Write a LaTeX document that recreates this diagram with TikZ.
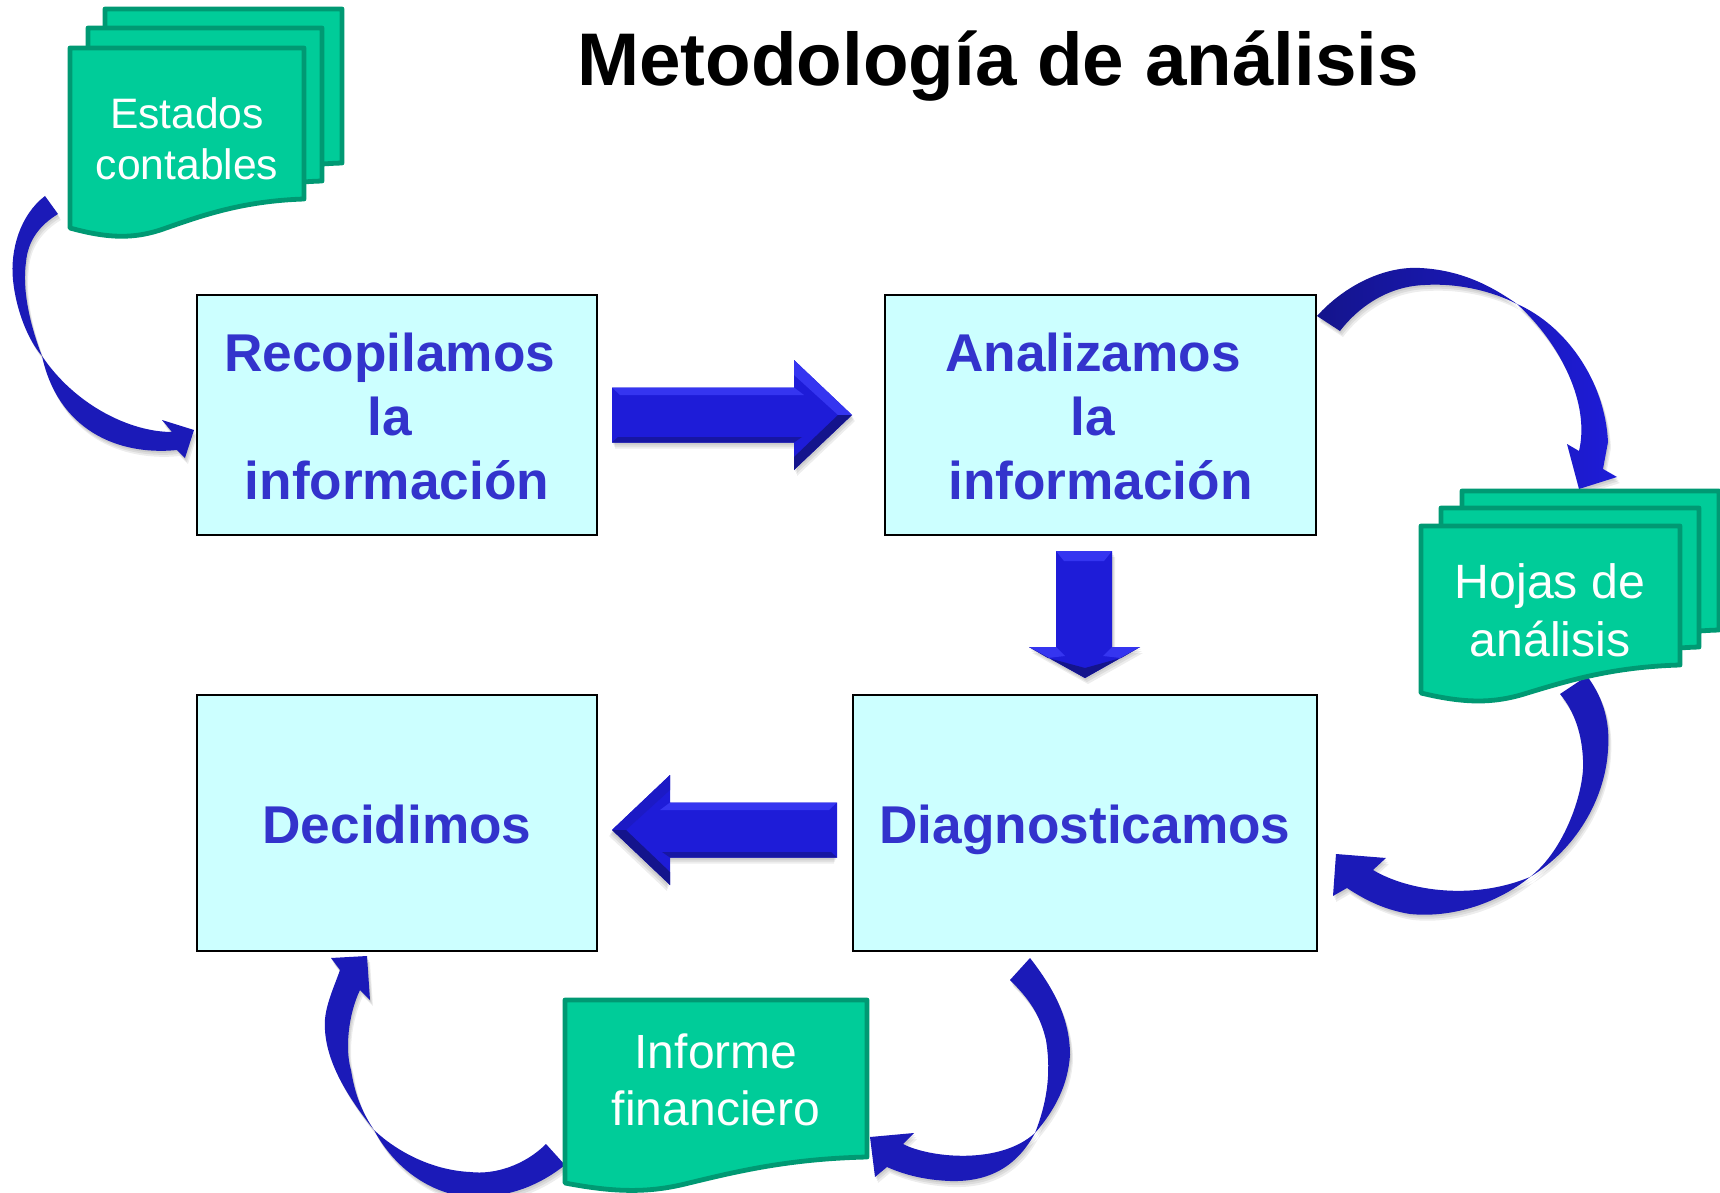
\documentclass[tikz,border=0pt]{standalone}
\usepackage{fontspec}
\setmainfont{Liberation Sans}
\definecolor{boxfill}{HTML}{CCFFFF}
\definecolor{boxtext}{HTML}{3333CC}
\definecolor{docfill}{HTML}{00CC99}
\definecolor{docline}{HTML}{009973}
\definecolor{ribbonblue}{HTML}{1B1AB8}
\definecolor{arrowblue}{HTML}{1E1CD8}
\definecolor{arrowlight}{HTML}{3535F0}
\definecolor{arrowdark}{HTML}{14148C}
\tikzset{
  stagebox/.style={draw=black,line width=1pt,fill=boxfill,rectangle,inner sep=0pt,align=center,
    text=boxtext,font=\fontsize{26.6}{32}\selectfont\bfseries},
  singleline/.style={text height=20pt,text depth=0pt},
  docshape/.style={draw=docline,fill=docfill,line width=2.4pt,line join=round},
  doctext/.style={text=white,inner sep=0pt,align=center},
  softlayer/.style={fill=black,opacity=.07},
}
\newcommand{\softcopies}[1]{%
  \fill[softlayer,shift={(1,2)}] #1;
  \fill[softlayer,shift={(2,4)}] #1;
  \fill[softlayer,shift={(3,6)}] #1;
}
\newcommand{\ribbon}[2][fill=ribbonblue]{%
  \softcopies{#2}
  \path[#1] #2;
}
\newcommand{\firstline}{\rule{0pt}{20.5pt}}
% #1 left, #2 right, #3 top, #4 right-bottom, #5 left-bottom
\newcommand{\docpath}[5]{%
  \draw[docshape] (#1,#3) -- (#2,#3) -- (#2,#4)
    .. controls ({#2-.26*(#2-#1)},{#4+.07*(#5-#4)}) and ({#2-.43*(#2-#1)},{#4+.55*(#5-#4)}) .. ({#2-.6*(#2-#1)},{#4+1.03*(#5-#4)})
    .. controls ({#2-.72*(#2-#1)},{#4+1.37*(#5-#4)}) and ({#2-.83*(#2-#1)},{#4+1.38*(#5-#4)}) .. (#1,#5) -- cycle;
}
% #1 tip x, #2 tip y, #3 direction, #4 length, #5 upper head facet colour
\newcommand{\blockH}[5]{%
  \begin{scope}[shift={(#1,#2)},xscale=#3]
    \softcopies{(0,0) -- (-58,55) -- (-58,27.5) -- (-#4,27.5) -- (-#4,-27.5) -- (-58,-27.5) -- (-58,-55) -- cycle}
    \fill[arrowblue] (0,0) -- (-58,55) -- (-58,27.5) -- (-#4,27.5) -- (-#4,-27.5) -- (-58,-27.5) -- (-58,-55) -- cycle;
    \fill[arrowlight] (-#4,-27.5) -- (-58,-27.5) -- (-48,-20) -- ({-#4+8},-20) -- cycle;
    \fill[#5] (-58,-55) -- (0,0) -- (-14,0) -- (-58,-40) -- cycle;
    \fill[arrowdark] (-58,55) -- (0,0) -- (-14,0) -- (-58,42) -- cycle;
    \fill[arrowdark!70!arrowblue] (-#4,27.5) -- (-58,27.5) -- (-50,22) -- ({-#4+6},22) -- cycle;
  \end{scope}
}
\begin{document}
\begin{tikzpicture}[x=.5pt,y=-.5pt]
\useasboundingbox (0,0) rectangle (1720,1193);
\clip (0,0) rectangle (1720,1193);
\fill[white] (0,0) rectangle (1720,1193);

% title
\node[anchor=base,inner sep=0pt,font=\fontsize{37.3}{44}\selectfont\bfseries] (title) at (998,86) {Metodología de análisis};

% curved arrows
\ribbon{(45,196) .. controls (20,215) and (10,250) .. (13,280) .. controls (16,310) and (28,340) .. (42,356) .. controls (58,430) and (118,456) .. (177,450) -- (185,458) -- (194,430) -- (162,420) -- (172,432) .. controls (130,432) and (75,405) .. (42,356) .. controls (30,325) and (22,290) .. (26,262) .. controls (28,240) and (40,225) .. (58,214) -- cycle}
\ribbon[left color=arrowdark,right color=arrowblue]{(1317,316) .. controls (1345,285) and (1385,266) .. (1420,268) .. controls (1460,270) and (1490,285) .. (1517,304) .. controls (1565,325) and (1605,380) .. (1608,442) -- (1603,469) -- (1617,477) -- (1579,489) -- (1567,444) -- (1579,451) .. controls (1590,405) and (1562,345) .. (1517,304) .. controls (1490,290) and (1455,283) .. (1425,285) .. controls (1390,286) and (1360,305) .. (1340,331) -- cycle}
\ribbon{(1587,676) .. controls (1605,700) and (1610,725) .. (1608,750) .. controls (1605,800) and (1575,850) .. (1530,877) .. controls (1495,905) and (1450,918) .. (1410,914) .. controls (1385,910) and (1365,900) .. (1347,888) -- (1333,896) -- (1336,854) -- (1386,858) -- (1373,870) .. controls (1410,892) and (1475,900) .. (1530,877) .. controls (1565,850) and (1585,790) .. (1583,760) .. controls (1582,735) and (1575,712) .. (1560,694) -- cycle}
\ribbon{(1030,958) .. controls (1055,990) and (1070,1020) .. (1070,1055) .. controls (1068,1085) and (1055,1110) .. (1035,1133) .. controls (1015,1170) and (985,1182) .. (950,1181) .. controls (925,1180) and (905,1175) .. (887,1167) -- (875,1177) -- (870,1137) -- (914,1133) -- (903,1144) .. controls (930,1158) and (1000,1165) .. (1035,1133) .. controls (1050,1095) and (1050,1065) .. (1046,1040) .. controls (1040,1015) and (1030,1000) .. (1010,980) -- cycle}
\ribbon{(546,1144) .. controls (525,1165) and (495,1175) .. (470,1172) .. controls (430,1170) and (395,1150) .. (374,1130) .. controls (350,1100) and (327,1065) .. (325,1030) .. controls (323,1010) and (333,990) .. (340,970) -- (331,958) -- (367,956) -- (370,1000) -- (360,990) .. controls (348,1015) and (345,1050) .. (351,1070) .. controls (355,1095) and (362,1112) .. (374,1130) .. controls (395,1170) and (435,1197) .. (475,1197) .. controls (510,1197) and (540,1185) .. (565,1165) -- cycle}

% block arrows
\blockH{852}{415}{1}{240}{arrowlight}
\blockH{612}{830}{-1}{225}{arrowblue!75!arrowdark}
\softcopies{(1085,678) -- (1029,647) -- (1056,647) -- (1056,551) -- (1112,551) -- (1112,647) -- (1140,647) -- cycle}
\fill[arrowblue] (1085,678) -- (1029,647) -- (1056,647) -- (1056,551) -- (1112,551) -- (1112,647) -- (1140,647) -- cycle;
\fill[arrowlight] (1056,551) -- (1112,551) -- (1104,561) -- (1064,561) -- cycle;
\fill[arrowlight] (1029,647) -- (1056,647) -- (1065,656) -- (1048,658) -- cycle;
\fill[arrowlight] (1140,647) -- (1112,647) -- (1103,656) -- (1121,658) -- cycle;
\fill[arrowdark] (1029,647) -- (1085,678) -- (1140,647) -- (1121,658) -- (1085,668) -- (1048,658) -- cycle;

% document stacks
\docpath{105}{342}{9}{163}{190}
\docpath{88}{322}{28}{181}{208}
\docpath{70}{304}{48}{199}{228}
\node[doctext,font=\fontsize{21.3}{25.5}\selectfont] (estados) at (187,139) {Estados\\contables};

\docpath{1462}{1719}{491}{630}{660}
\docpath{1441}{1699}{508}{647}{677}
\docpath{1421}{1680}{526}{665}{693}
\node[doctext,font=\fontsize{24.1}{29}\selectfont] (hojas) at (1550,610) {Hojas de\\análisis};

\docpath{565}{867}{1000}{1157}{1183}
\node[doctext,font=\fontsize{24}{28.5}\selectfont] (informe) at (716,1080) {Informe\\financiero};

% stage boxes
\node[stagebox,minimum width=200pt,minimum height=120pt] (recopilamos) at (397,415) {\firstline Recopilamos\phantom{i}\\la\phantom{i}\\información};
\node[stagebox,minimum width=215.5pt,minimum height=120pt] (analizamos) at (1100.5,415) {\firstline Analizamos\phantom{i}\\la\phantom{i}\\información};
\node[stagebox,singleline,minimum width=200pt,minimum height=128pt] (decidimos) at (397,823) {Decidimos};
\node[stagebox,singleline,minimum width=232pt,minimum height=128pt] (diagnosticamos) at (1085,823) {Diagnosticamos};
\end{tikzpicture}
\end{document}
